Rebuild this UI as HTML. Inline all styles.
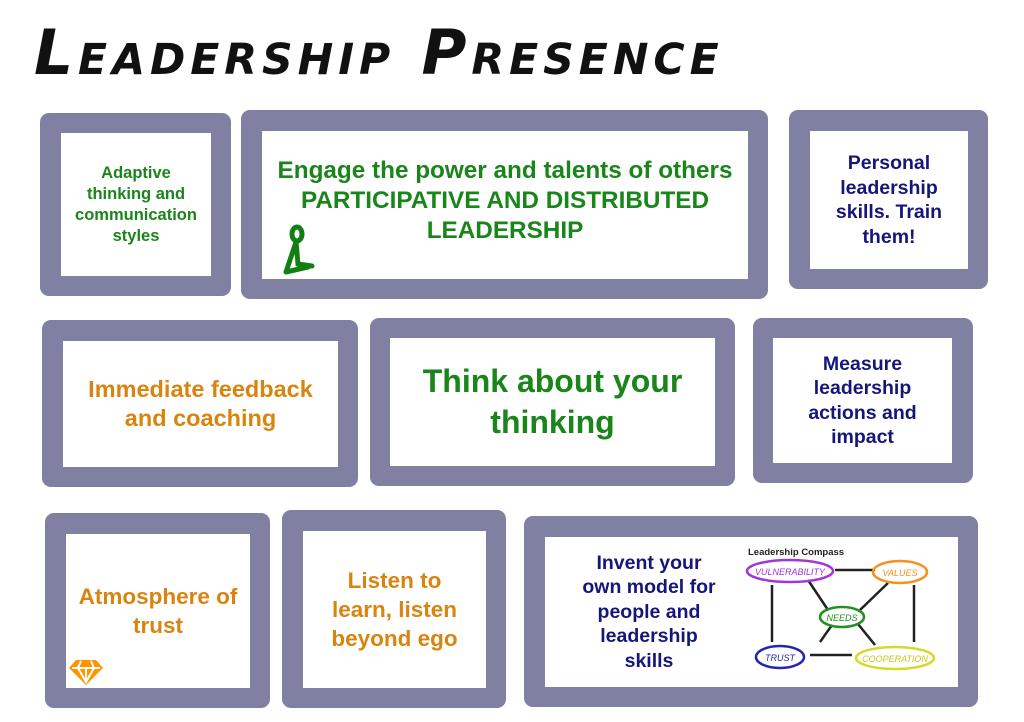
<!DOCTYPE html>
<html><head><meta charset="utf-8">
<style>
*{margin:0;padding:0;box-sizing:border-box}
body{width:1024px;height:722px;background:#fff;position:relative;overflow:hidden;font-family:"Liberation Sans",sans-serif}
.f{position:absolute;background:#7f80a2;border-radius:9px}
.i{position:absolute;background:#fff;display:flex;align-items:center;justify-content:center;text-align:center;font-weight:bold}
.g{color:#1a851a}.o{color:#d9840f}.n{color:#16167a}
#t{position:absolute;left:34px;top:16px;font-size:62px;font-style:oblique;font-weight:bold;font-variant:small-caps;letter-spacing:5px;color:#111;transform-origin:left top;transform:scaleX(0.99);white-space:nowrap;font-family:"DejaVu Sans",sans-serif}
</style></head><body>
<div id="t">Leadership Presence</div>

<div class="f" style="left:40px;top:113px;width:191px;height:183px"></div>
<div class="i g" style="left:61px;top:133px;width:150px;height:143px;font-size:16.5px;line-height:21px">Adaptive<br>thinking and<br>communication<br>styles</div>

<div class="f" style="left:241px;top:110px;width:527px;height:189px"></div>
<div class="i g" style="left:262px;top:131px;width:486px;height:148px;font-size:24.3px;line-height:30px;align-items:flex-start;padding-top:25px">Engage the power and talents of others<br>PARTICIPATIVE AND DISTRIBUTED<br>LEADERSHIP</div>
<svg style="position:absolute;left:278px;top:222px" width="42" height="60"><g stroke="#137f13" stroke-width="5" fill="none" stroke-linecap="round"><ellipse cx="19" cy="12" rx="5" ry="7"/><path d="M18 20 L8 50 M18 20 L20 42 L34 44 M8 50 L30 45"/></g></svg>

<div class="f" style="left:789px;top:110px;width:199px;height:179px"></div>
<div class="i n" style="left:810px;top:131px;width:158px;height:138px;font-size:19.5px;line-height:24.5px">Personal<br>leadership<br>skills. Train<br>them!</div>

<div class="f" style="left:42px;top:320px;width:316px;height:167px"></div>
<div class="i o" style="left:63px;top:341px;width:275px;height:126px;font-size:23.5px;line-height:29px">Immediate feedback<br>and coaching</div>

<div class="f" style="left:370px;top:318px;width:365px;height:168px"></div>
<div class="i g" style="left:390px;top:338px;width:325px;height:128px;font-size:32px;line-height:41px">Think about your<br>thinking</div>

<div class="f" style="left:753px;top:318px;width:220px;height:165px"></div>
<div class="i n" style="left:773px;top:338px;width:179px;height:125px;font-size:19.5px;line-height:24.5px">Measure<br>leadership<br>actions and<br>impact</div>

<div class="f" style="left:45px;top:513px;width:225px;height:195px"></div>
<div class="i o" style="left:66px;top:534px;width:184px;height:154px;font-size:22.5px;line-height:29px">Atmosphere of<br>trust</div>
<svg style="position:absolute;left:68px;top:658px" width="36" height="28"><path d="M8 2 H28 L35 10 L18 27 L1 10 Z" fill="#ff9400"/><g stroke="#fff" stroke-width="2" fill="none"><path d="M4 10 H32 M13 3 L10 10 L18 24 L26 10 L23 3 M18 10 V22"/></g></svg>

<div class="f" style="left:282px;top:510px;width:224px;height:198px"></div>
<div class="i o" style="left:303px;top:531px;width:183px;height:157px;font-size:22.5px;line-height:29px">Listen to<br>learn, listen<br>beyond ego</div>

<div class="f" style="left:524px;top:516px;width:454px;height:191px"></div>
<div class="i n" style="left:545px;top:537px;width:413px;height:150px;justify-content:flex-start;font-size:19.5px;line-height:24.5px"><div style="width:208px">Invent your<br>own model for<br>people and<br>leadership<br>skills</div></div>
<svg style="position:absolute;left:740px;top:540px" width="210" height="140" font-family="Liberation Sans,sans-serif">
<text x="8" y="15" font-size="9.5" font-weight="bold" fill="#222">Leadership Compass</text>
<g stroke="#222" stroke-width="2.5">
<line x1="95" y1="30" x2="135" y2="30"/><line x1="32" y1="45" x2="32" y2="102"/><line x1="174" y1="45" x2="174" y2="102"/>
<line x1="70" y1="115" x2="112" y2="115"/><line x1="68" y1="40" x2="88" y2="70"/><line x1="148" y1="43" x2="120" y2="70"/>
<line x1="80" y1="102" x2="92" y2="85"/><line x1="118" y1="84" x2="135" y2="105"/></g>
<g fill="none" stroke-width="2.5"><ellipse cx="50" cy="31" rx="43" ry="11" stroke="#a235d8"/><ellipse cx="160" cy="32" rx="27" ry="11" stroke="#f5901f"/><ellipse cx="102" cy="77" rx="22" ry="10" stroke="#239023"/><ellipse cx="40" cy="117" rx="24" ry="11" stroke="#2424b5"/><ellipse cx="155" cy="118" rx="39" ry="11" stroke="#d8d82a"/></g>
<g font-size="9" font-style="italic" text-anchor="middle"><text x="50" y="35" fill="#a235d8">VULNERABILITY</text><text x="160" y="36" fill="#f5901f">VALUES</text><text x="102" y="81" fill="#239023">NEEDS</text><text x="40" y="121" fill="#2424b5">TRUST</text><text x="155" y="122" fill="#c8c81a">COOPERATION</text></g>
</svg>
</body></html>
